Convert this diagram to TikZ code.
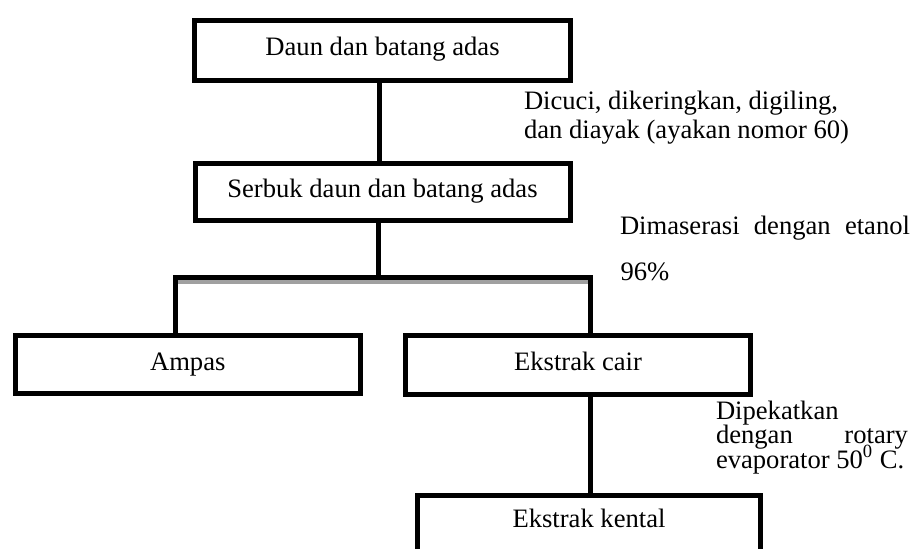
\documentclass[tikz,border=0pt]{standalone}
\usepackage{fontspec}
\setmainfont{Liberation Serif}
\begin{document}
\begin{tikzpicture}[x=0.5pt,y=-0.5pt,
  every node/.style={font=\fontsize{13.3}{16}\selectfont},
  box/.style={draw, line width=2.5pt, inner sep=0pt, outer sep=0pt, text height=0.7em, text depth=0.15em},
  conn/.style={line width=2.5pt},
  shadowline/.style={line width=2pt, draw={rgb,255:red,160;green,160;blue,160}},
  lbl/.style={anchor=base west, inner sep=0pt, outer sep=0pt}]
\useasboundingbox (0,0) rectangle (913,548);
\clip (0,0) rectangle (913,548);

% boxes
\node[box, minimum width=187.75pt, minimum height=29.75pt] (b1) at (382.5,50.25) {Daun dan batang adas};
\node[box, minimum width=187.5pt, minimum height=28.75pt] (b2) at (382.5,191.75) {Serbuk daun dan batang adas};
\node[box, minimum width=172.75pt, minimum height=29pt] (amp) at (187.75,364.5) {Ampas};
\node[box, minimum width=172.5pt, minimum height=29.25pt] (ec) at (578,364.75) {Ekstrak cair};
\node[box, minimum width=171.5pt, minimum height=30pt, anchor=north] (ek) at (589,495) {\raisebox{1.5pt}{Ekstrak kental}};

% branch coordinates
\coordinate (barL) at (175,277.5);
\coordinate (barR) at (590,277.5);

% connectors
\draw[shadowline] ([xshift=1pt,yshift=-2.25pt]barL) -- ([xshift=-1pt,yshift=-2.25pt]barR);
\draw[conn] ([xshift=-1.75pt]b1.south) -- ([xshift=-1.75pt]b1.south |- b2.north);
\draw[conn] ([xshift=-2.25pt]b2.south) -- ([xshift=-2.25pt]b2.south |- barL);
\draw[conn, line join=miter] (barL |- amp.north) -- (barL) -- (barR) -- (barR |- ec.north);
\draw[conn] ([xshift=6pt]ec.south) -- ([xshift=6pt]ec.south |- ek.north);

% labels
\node[lbl] (t1) at (524,109) {Dicuci, dikeringkan, digiling,};
\node[lbl] (t2) at (524,138) {dan diayak (ayakan nomor 60)};
\node[lbl] (t3) at (620,234) {\makebox[145pt][s]{Dimaserasi dengan etanol}};
\node[lbl] (t4) at (620.5,280) {96\%};
\node[lbl] (t5) at (716,419) {\vtop{\baselineskip=12.25pt\lineskiplimit=-100pt\lineskip=0pt
  \hbox{Dipekatkan}
  \hbox{\makebox[96pt][s]{dengan rotary}}
  \hbox{evaporator 50\textsuperscript{0} C.}}};
\end{tikzpicture}
\end{document}
